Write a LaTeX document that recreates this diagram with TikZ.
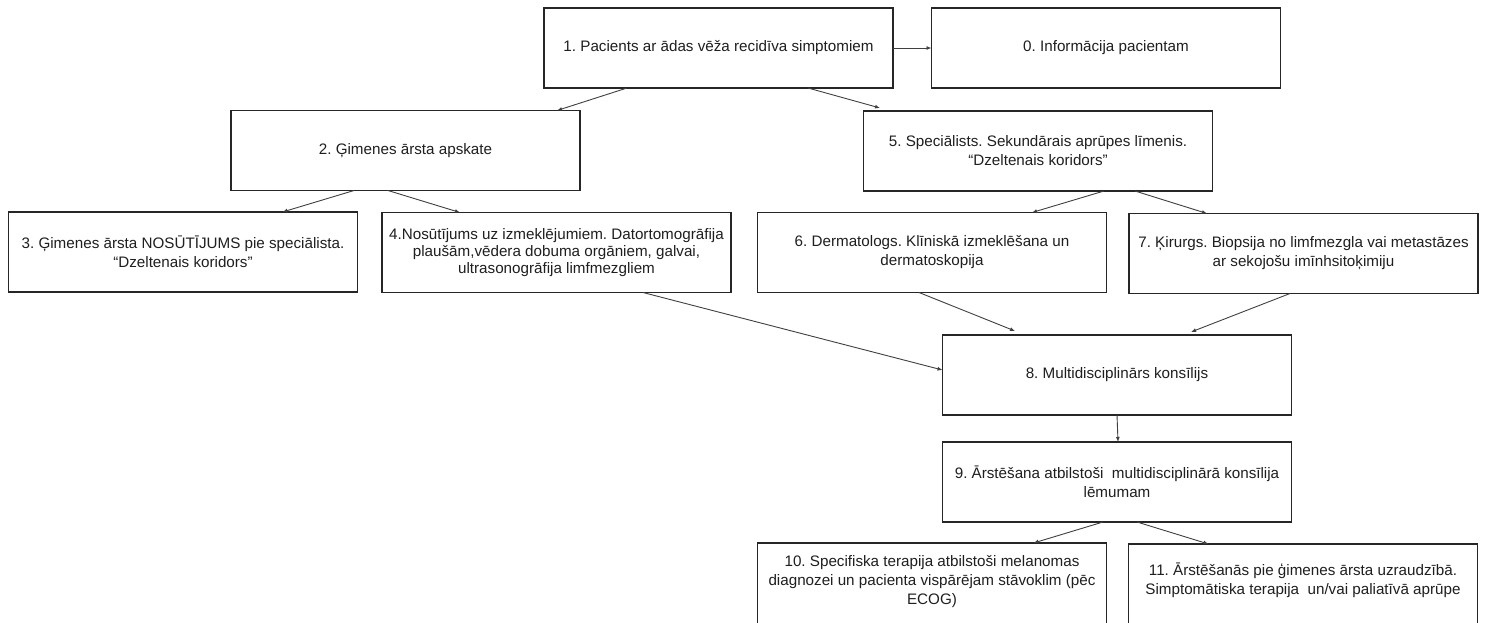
\documentclass[tikz,border=0pt]{standalone}
\usepackage{fontspec}
\setmainfont{Liberation Sans}
\usetikzlibrary{calc,arrows.meta}
\newcommand{\dnrule}[1]{\rule[-#1pt]{0pt}{0pt}}
\frenchspacing
\begin{document}
\begin{tikzpicture}[x=1pt,y=-1pt,
  box/.style={draw=black!85, line width=1.2pt, minimum width=349pt, minimum height=80pt,
    inner sep=0pt, outer sep=0pt, align=center, font=\fontsize{15.2}{19}\selectfont\frenchspacing, text=black!88},
  arr/.style={draw=black!75, line width=0.9pt, -{Latex[length=5pt,width=4pt]}}]
\clip (0,0) rectangle (1485,622);
\fill[white] (0,0) rectangle (1485,622);

\node[box] (b1) at (718.5,48) {1. Pacients ar ādas vēža recidīva simptomiem};
\node[box] (b0) at (1106,48) {0. Informācija pacientam};
\node[box] (b2) at (405.5,150.5) {2. Ģimenes ārsta apskate};
\node[box] (b5) at (1038,151) {5. Speciālists. Sekundārais aprūpes līmenis.\\“Dzeltenais koridors”};
\node[box] (b3) at (183,252) {3. Ģimenes ārsta NOSŪTĪJUMS pie speciālista.\\“Dzeltenais koridors"};
\node[box, font=\fontsize{15.2}{17}\selectfont\frenchspacing] (b4) at (556.5,252.5) {4.Nosūtījums uz izmeklējumiem. Datortomogrāfija\\plaušām,vēdera dobuma orgāniem, galvai,\\ultrasonogrāfija limfmezgliem};
\node[box] (b6) at (932,252.5) {6. Dermatologs. Klīniskā izmeklēšana un\\dermatoskopija};
\node[box] (b7) at (1303.5,253.5) {7. Ķirurgs. Biopsija no limfmezgla vai metastāzes\\ar sekojošu imīnhsitoķimiju};
\node[box] (b8) at (1117,375) {8. Multidisciplinārs konsīlijs};
\node[box] (b9) at (1117,482) {9. Ārstēšana atbilstoši\ \ multidisciplinārā konsīlija\\lēmumam};
\node[box, minimum height=100pt] (b10) at (932,593) {10. Specifiska terapija atbilstoši melanomas\\diagnozei un pacienta vispārējam stāvoklim (pēc\\ECOG)\dnrule{27}};
\node[box, minimum height=100pt] (b11) at (1303,594) {11. Ārstēšanās pie ģimenes ārsta uzraudzībā.\\Simptomātiska terapija\ \ un/vai paliatīvā aprūpe\dnrule{31}};

\draw[arr] (b1.east) -- (b0.west);
\draw[arr] ($(b1.south west)+(83,0)$) -- ($(b2.north west)+(326,0)$);
\draw[arr] ($(b1.south west)+(264,0)$) -- ($(b5.north west)+(16.5,-3)$);
\draw[arr] ($(b2.south west)+(123,0)$) -- ($(b3.north west)+(274,0)$);
\draw[arr] ($(b2.south west)+(157,0)$) -- ($(b4.north west)+(78,0)$);
\draw[arr] ($(b5.south west)+(240.5,0)$) -- ($(b6.north west)+(274.5,0)$);
\draw[arr] ($(b5.south west)+(271.5,0)$) -- ($(b7.north west)+(78,0)$);
\draw[arr] ($(b4.south west)+(261,0)$) -- ($(b8.west)+(0,-5)$);
\draw[arr] ($(b6.south west)+(161.5,0)$) -- ($(b8.north west)+(72.5,-4)$);
\draw[arr] ($(b7.south west)+(161,0)$) -- ($(b8.north west)+(248.5,-3)$);
\draw[arr] (b8.south) -- ($(b9.north)+(1,0)$);
\draw[arr] ($(b9.south west)+(160.5,0)$) -- ($(b10.north west)+(276,0)$);
\draw[arr] ($(b9.south west)+(194.5,0)$) -- ($(b11.north west)+(80,0)$);
\end{tikzpicture}
\end{document}
